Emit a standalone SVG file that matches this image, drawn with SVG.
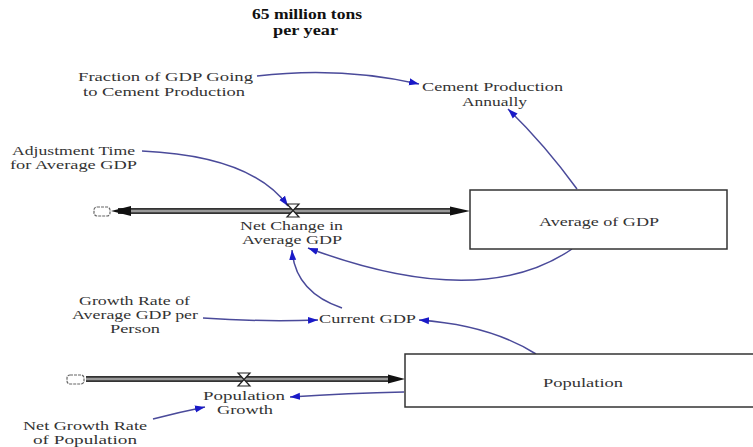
<svg xmlns="http://www.w3.org/2000/svg" width="753" height="447" viewBox="0 0 753 447">
<defs>
<style>
text{font-family:"Liberation Serif","Times New Roman",serif;font-size:13px;fill:#333;text-anchor:middle}
.title{font-weight:bold;fill:#111;font-size:14px}
.link{fill:none;stroke:#4a4a9a;stroke-width:1.5;marker-end:url(#ah)}
.pipeO{fill:none;stroke:#333;stroke-width:6}
.pipeI{fill:none;stroke:#999;stroke-width:2.5}
.box{fill:#fff;stroke:#333;stroke-width:1.5}
.valve{fill:#fff;stroke:#222;stroke-width:1.2}
.cloud{fill:#fff;stroke:#666;stroke-width:1.2;stroke-dasharray:3 1}
</style>
<marker id="ah" markerUnits="userSpaceOnUse" markerWidth="12" markerHeight="10" refX="10" refY="5" orient="auto">
<path d="M0,1.5 L10,5 L0,8.5 Z" fill="#1a1ac8"/>
</marker>
</defs>
<rect width="753" height="447" fill="#fff"/>

<g id="title">
<text class="title" x="307" y="19" textLength="110" lengthAdjust="spacingAndGlyphs">65 million tons</text>
<text class="title" x="305.5" y="35" textLength="65" lengthAdjust="spacingAndGlyphs">per year</text>
</g>

<g id="connectors">
<!-- flow pipes -->
<line class="pipeO" x1="118" y1="211" x2="452" y2="211"/>
<line class="pipeI" x1="118" y1="211" x2="452" y2="211"/>
<path d="M111,211 L131,206 L131,216 Z" fill="#111"/>
<path d="M470,211 L450,206.5 L450,215.5 Z" fill="#111"/>
<line class="pipeO" x1="86" y1="379" x2="390" y2="379"/>
<line class="pipeI" x1="86" y1="379" x2="390" y2="379"/>
<path d="M405,379 L388,374.5 L388,383.5 Z" fill="#111"/>
<!-- info links -->
<path class="link" d="M257,76 Q340,66 419,84"/>
<path class="link" d="M142,151 Q252,156 288,206"/>
<path class="link" d="M577,189 Q545,145 508,109"/>
<path class="link" d="M572,249 Q480,312 308,248"/>
<path class="link" d="M342,308 Q295,292 292,250"/>
<path class="link" d="M203,318 Q260,322 318,320"/>
<path class="link" d="M536,354 Q490,325 419,320"/>
<path class="link" d="M404,392 Q350,393 290,397"/>
<path class="link" d="M153,419 Q180,412 205,407"/>
</g>

<g id="cloud-gdp"><rect class="cloud" x="94" y="207" width="16" height="9" rx="3"/></g>
<g id="cloud-pop"><rect class="cloud" x="67" y="375" width="17" height="9" rx="3"/></g>

<g id="fraction-gdp-cement">
<text x="165.5" y="81" textLength="175" lengthAdjust="spacingAndGlyphs">Fraction of GDP Going</text>
<text x="164" y="96" textLength="162" lengthAdjust="spacingAndGlyphs">to Cement Production</text>
</g>

<g id="cement-production">
<text x="492.5" y="91" textLength="141" lengthAdjust="spacingAndGlyphs">Cement Production</text>
<text x="494.5" y="106" textLength="65" lengthAdjust="spacingAndGlyphs">Annually</text>
</g>

<g id="adjustment-time">
<text x="73.5" y="155" textLength="123" lengthAdjust="spacingAndGlyphs">Adjustment Time</text>
<text x="73.5" y="169" textLength="127" lengthAdjust="spacingAndGlyphs">for Average GDP</text>
</g>

<g id="net-change">
<path class="valve" d="M287,204 L299,204 L287,217 L299,217 Z"/>
<text x="291.5" y="230" textLength="103" lengthAdjust="spacingAndGlyphs">Net Change in</text>
<text x="292" y="244" textLength="100" lengthAdjust="spacingAndGlyphs">Average GDP</text>
</g>

<g id="average-gdp">
<rect class="box" x="470" y="190" width="257" height="59"/>
<text x="599" y="226" textLength="120" lengthAdjust="spacingAndGlyphs">Average of GDP</text>
</g>

<g id="growth-rate-gdp">
<text x="134.5" y="305" textLength="111" lengthAdjust="spacingAndGlyphs">Growth Rate of</text>
<text x="135" y="319" textLength="126" lengthAdjust="spacingAndGlyphs">Average GDP per</text>
<text x="135" y="333" textLength="50" lengthAdjust="spacingAndGlyphs">Person</text>
</g>

<g id="current-gdp">
<text x="367.5" y="323" textLength="97" lengthAdjust="spacingAndGlyphs">Current GDP</text>
</g>

<g id="population-growth">
<path class="valve" d="M238,373 L250,373 L238,386 L250,386 Z"/>
<text x="244" y="400" textLength="82" lengthAdjust="spacingAndGlyphs">Population</text>
<text x="245" y="414" textLength="56" lengthAdjust="spacingAndGlyphs">Growth</text>
</g>

<g id="population">
<rect class="box" x="405" y="354" width="352" height="53"/>
<text x="583" y="387" textLength="80" lengthAdjust="spacingAndGlyphs">Population</text>
</g>

<g id="net-growth-rate">
<text x="85" y="430" textLength="124" lengthAdjust="spacingAndGlyphs">Net Growth Rate</text>
<text x="85" y="444" textLength="104" lengthAdjust="spacingAndGlyphs">of Population</text>
</g>
</svg>
